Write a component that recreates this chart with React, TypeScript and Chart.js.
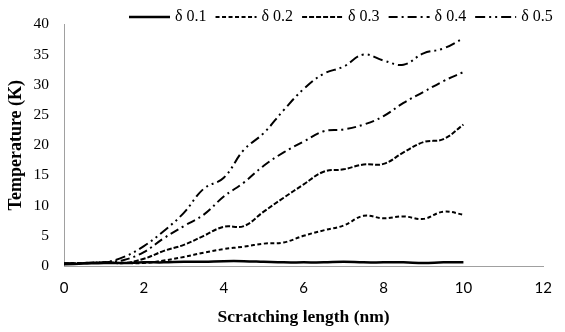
import React, { useEffect, useRef } from "react";
import { Chart, registerables } from "chart.js";

Chart.register(...registerables);

const xValues = [0, 0.5, 1, 1.5, 2, 2.5, 3, 3.5, 4, 4.5, 5, 5.5, 6, 6.5, 7, 7.5, 8, 8.5, 9, 9.5, 10];
const seriesLabels = ["δ 0.1", "δ 0.2", "δ 0.3", "δ 0.4", "δ 0.5"];
const delta01 = [0.3, 0.4, 0.5, 0.5, 0.6, 0.6, 0.7, 0.7, 0.8, 0.8, 0.7, 0.6, 0.6, 0.6, 0.7, 0.6, 0.6, 0.6, 0.5, 0.6, 0.6];
const delta02 = [0.4, 0.5, 0.6, 0.5, 0.5, 0.9, 1.5, 2.2, 2.8, 3.2, 3.7, 3.9, 5.0, 5.9, 6.7, 8.3, 7.9, 8.2, 7.8, 9.0, 8.5];
const delta03 = [0.4, 0.5, 0.6, 0.5, 1.2, 2.5, 3.5, 5.0, 6.5, 6.6, 9.0, 11.3, 13.5, 15.6, 16.0, 16.8, 16.9, 18.8, 20.5, 21.0, 23.4];
const delta04 = [0.4, 0.5, 0.6, 1.0, 2.3, 4.6, 6.6, 8.5, 11.5, 13.8, 16.6, 18.8, 20.6, 22.3, 22.6, 23.4, 24.8, 27.0, 28.8, 30.6, 32.1];
const delta05 = [0.4, 0.5, 0.6, 1.5, 3.3, 5.8, 8.8, 12.8, 14.6, 19.2, 22.0, 25.8, 29.3, 31.8, 33.0, 35.0, 34.0, 33.3, 35.2, 36.0, 37.7];
const xTicksStep = 2;
const yTicksStep = 5;

const allSeries = [delta01, delta02, delta03, delta04, delta05];
const dashes = [[], [4, 2.5], [5, 2], [9, 4, 2, 4], [10, 4, 2, 4, 2, 4]];
const widths = [2.5, 2, 2, 2, 2];

const legendPlugin = {
  id: "customLegend",
  afterDraw(chart: any) {
    const ctx = chart.ctx;
    ctx.save();
    ctx.font = "16px 'Liberation Serif'";
    ctx.textBaseline = "middle";
    let x = 129;
    const y = 17;
    chart.data.datasets.forEach((ds: any) => {
      ctx.beginPath();
      ctx.setLineDash(ds.borderDash || []);
      ctx.lineWidth = ds.borderWidth;
      ctx.strokeStyle = ds.borderColor;
      ctx.moveTo(x, y);
      ctx.lineTo(x + 41, y);
      ctx.stroke();
      ctx.setLineDash([]);
      ctx.fillStyle = "#000";
      ctx.fillText(ds.label, x + 46, y);
      x += 46 + ctx.measureText(ds.label).width + 9;
    });
    ctx.restore();
  },
};

export default function App() {
  const ref = useRef<HTMLCanvasElement>(null);
  useEffect(() => {
    if (!ref.current) return;
    const chart = new Chart(ref.current, {
      type: "line",
      data: {
        datasets: allSeries.map((s, i) => ({
          label: seriesLabels[i],
          data: xValues.map((x, j) => ({ x, y: s[j] })),
          borderColor: "#000",
          backgroundColor: "#000",
          borderWidth: widths[i],
          borderDash: dashes[i],
          pointRadius: 0,
          tension: 0.4,
          fill: false,
        })),
      },
      options: {
        animation: false,
        responsive: false,
        devicePixelRatio: 1,
        layout: { padding: { top: 18, right: 11, left: 0, bottom: 0 } },
        plugins: { legend: { display: false }, tooltip: { enabled: false } },
        scales: {
          x: {
            type: "linear",
            min: 0,
            max: 12,
            ticks: { stepSize: xTicksStep, padding: 13, color: "#000", font: { family: "Lato", size: 15 } },
            grid: { display: false, drawTicks: false },
            border: { display: true, color: "#a0a0a0", width: 1 },
            title: {
              display: true,
              text: "Scratching length (nm)",
              color: "#000",
              font: { family: "Liberation Serif", size: 17.5, weight: "bold" },
              padding: { top: 0, bottom: 4 },
            },
            afterFit(scale: any) {
              scale.height = 66;
            },
          },
          y: {
            min: 0,
            max: 40,
            ticks: { stepSize: yTicksStep, padding: 15, color: "#000", font: { family: "Liberation Serif", size: 15.5 } },
            grid: { display: false, drawTicks: false },
            border: { display: true, color: "#a0a0a0", width: 1 },
            title: {
              display: true,
              text: "Temperature (K)",
              color: "#000",
              font: { family: "Liberation Serif", size: 18, weight: "bold" },
              padding: { top: 6, bottom: 0 },
            },
            afterFit(scale: any) {
              scale.width = 64;
            },
          },
        },
      },
      plugins: [legendPlugin],
    });
    return () => chart.destroy();
  }, []);
  return (
    <div style={{ position: "fixed", left: 0, top: 0, width: 565, height: 332, background: "#fff" }}>
      <canvas ref={ref} width={565} height={332} />
    </div>
  );
}
